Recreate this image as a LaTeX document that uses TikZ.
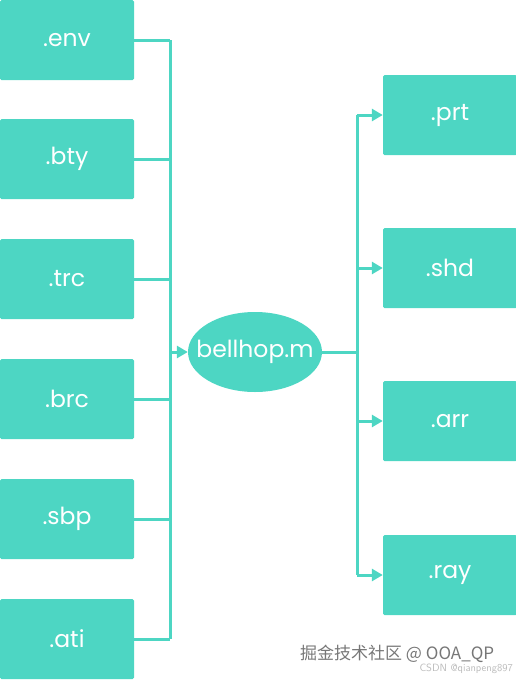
\documentclass[tikz,border=0pt]{standalone}
\usepackage{fontspec}
\setmainfont{Poppins}
\newfontfamily\cjk{Noto Sans CJK SC}
\usetikzlibrary{arrows.meta,shapes.geometric}
\definecolor{teal1}{HTML}{4DD6C3}
\definecolor{wmgrey}{HTML}{777777}
\definecolor{wmlight}{HTML}{BBBBBB}
\tikzset{
  filebox/.style={rectangle, rounded corners=1.5pt, fill=teal1, draw=none, minimum width=134pt, minimum height=80pt, inner sep=0pt, text=white, font=\fontsize{23.5}{25}\selectfont},
  mainnode/.style={ellipse, fill=teal1, draw=none, minimum width=134pt, minimum height=80pt, inner sep=0pt, text=white, font=\fontsize{23.5}{25}\selectfont},
  link/.style={draw=teal1, line width=3pt},
  arrowlink/.style={link, -{Triangle[length=11pt,width=12pt]}},
}
\begin{document}
\begin{tikzpicture}[x=1pt,y=-1pt]
\useasboundingbox (0,0) rectangle (516,681);
% left inputs
\node[filebox] (env) at (67,40) {.env};
\node[filebox] (bty) at (67,159) {.bty};
\node[filebox] (trc) at (67,279) {.trc};
\node[filebox] (brc) at (67,399) {.brc};
\node[filebox] (sbp) at (67,519) {.sbp};
\node[filebox] (ati) at (67,639) {.ati};
% center
\node[mainnode] (bh) at (255,352) {\makebox[0pt]{bellhop.m}};
% right outputs
\node[filebox] (prt) at (450,115) {.prt};
\node[filebox] (shd) at (450,268) {.shd};
\node[filebox] (arr) at (450,421) {.arr};
\node[filebox] (ray) at (450,575) {.ray};
% buses
\coordinate (lm) at (170,352);
\coordinate (rm) at (357,352);
\foreach \n in {env,bty,trc,brc,sbp,ati}
  \draw[link] (\n.east) -- (\n.east -| lm);
\draw[link] (env.east -| lm) -- (ati.east -| lm);
\draw[arrowlink] (lm) -- (bh.west);
\draw[link] (bh.east) -- (rm);
\draw[link] (rm |- prt.west) -- (rm |- ray.west);
\foreach \n in {prt,shd,arr,ray}
  \draw[arrowlink] (rm |- \n.west) -- (\n.west);
% watermark
\node[anchor=west, inner sep=0pt, text=wmgrey, font=\cjk\fontsize{17}{18}\selectfont] (wm1) at (300,654) {掘金技术社区 @ OOA\_QP};
\node[anchor=east, inner sep=0pt, text=wmlight, font=\fontsize{10.5}{11}\selectfont\sffamily] (wm2) at (513,669) {CSDN @qianpeng897};
\end{tikzpicture}
\end{document}
